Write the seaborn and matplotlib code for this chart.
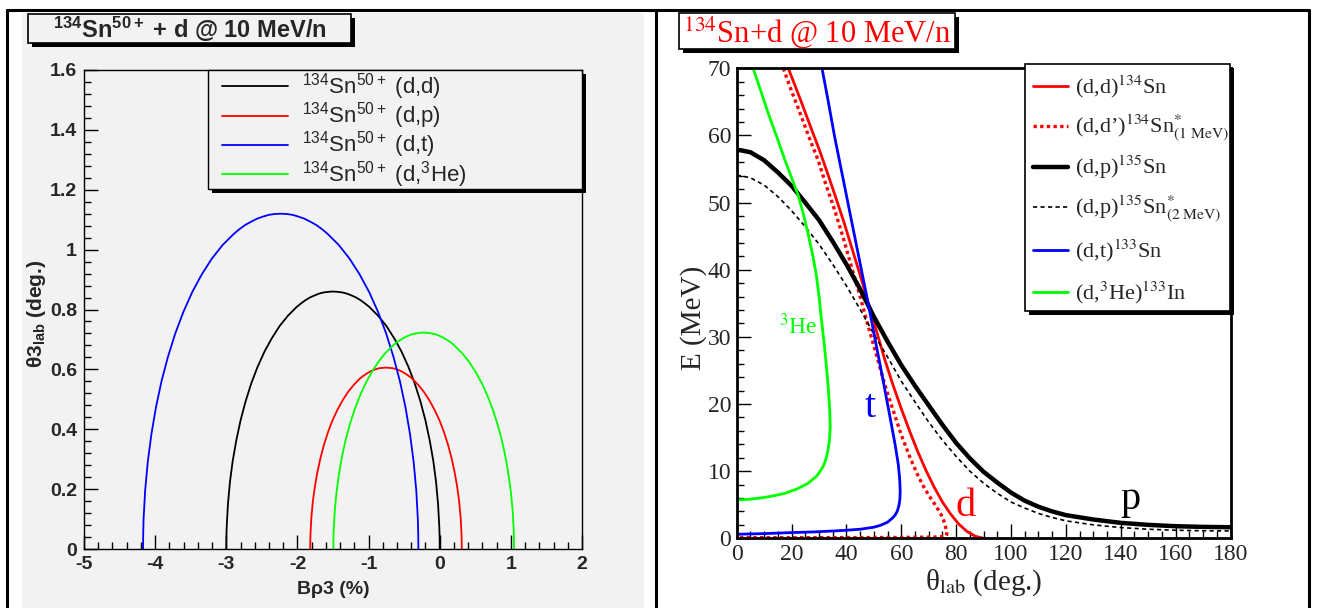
import matplotlib
matplotlib.use("Agg")
import matplotlib.pyplot as plt
import seaborn as sns
from matplotlib.patches import Rectangle
from matplotlib.lines import Line2D
from matplotlib.ticker import MultipleLocator, FuncFormatter

# ---------------- data: left panel (Brho3 % vs theta3_lab deg) ----------------
dd_brho = [-3.000, -2.999, -2.994, -2.977, -2.949, -2.910, -2.859, -2.799, -2.729, -2.649, -2.561,
           -2.464, -2.360, -2.250, -2.134, -2.013, -1.951, -1.888, -1.825, -1.760, -1.696, -1.631,
           -1.565, -1.500,
           -1.435, -1.369, -1.304, -1.240, -1.175, -1.112, -1.049, -0.987, -0.866, -0.750, -0.640,
           -0.536, -0.439, -0.351, -0.271, -0.201, -0.141, -0.090, -0.051, -0.023, -0.006, -0.001,
           0.000]
dd_theta = [0.000, 0.038, 0.075, 0.149, 0.223, 0.294, 0.363, 0.430, 0.493, 0.553, 0.608, 0.659,
            0.704, 0.745, 0.779, 0.808, 0.820, 0.831, 0.840, 0.847, 0.853, 0.857, 0.859, 0.860,
            0.859, 0.857, 0.853, 0.847, 0.840, 0.831, 0.820, 0.808, 0.779, 0.745, 0.704, 0.659,
            0.608, 0.553, 0.493, 0.430, 0.363, 0.294, 0.223, 0.149, 0.075, 0.038, 0.000]
dp_brho = [-1.820, -1.819, -1.816, -1.804, -1.784, -1.756, -1.720, -1.677, -1.627, -1.571, -1.508,
           -1.440, -1.366, -1.288, -1.205, -1.119, -1.075, -1.031, -0.986, -0.940, -0.894, -0.848,
           -0.801, -0.755,
           -0.709, -0.662, -0.616, -0.570, -0.525, -0.479, -0.435, -0.391, -0.305, -0.223, -0.144,
           -0.071, -0.002, 0.061, 0.117, 0.167, 0.210, 0.246, 0.274, 0.294, 0.306, 0.309, 0.310]
dp_theta = [0.000, 0.026, 0.053, 0.105, 0.157, 0.207, 0.256, 0.303, 0.348, 0.390, 0.429, 0.464,
            0.496, 0.525, 0.549, 0.570, 0.578, 0.585, 0.592, 0.597, 0.601, 0.604, 0.605, 0.606,
            0.605, 0.604, 0.601, 0.597, 0.592, 0.585, 0.578, 0.570, 0.549, 0.525, 0.496, 0.464,
            0.429, 0.390, 0.348, 0.303, 0.256, 0.207, 0.157, 0.105, 0.053, 0.026, 0.000]
dt_brho = [-4.170, -4.168, -4.163, -4.141, -4.104, -4.053, -3.989, -3.911, -3.820, -3.717, -3.603,
           -3.479, -3.345, -3.203, -3.053, -2.897, -2.817, -2.736, -2.654, -2.571, -2.488, -2.404,
           -2.319, -2.235,
           -2.151, -2.066, -1.982, -1.899, -1.816, -1.734, -1.653, -1.573, -1.417, -1.268, -1.125,
           -0.991, -0.867, -0.753, -0.650, -0.559, -0.481, -0.417, -0.366, -0.329, -0.307, -0.302,
           -0.300]
dt_theta = [0.000, 0.049, 0.098, 0.194, 0.290, 0.383, 0.473, 0.560, 0.642, 0.720, 0.792, 0.858,
            0.917, 0.970, 1.015, 1.052, 1.068, 1.082, 1.093, 1.103, 1.110, 1.116, 1.119, 1.120,
            1.119, 1.116, 1.110, 1.103, 1.093, 1.082, 1.068, 1.052, 1.015, 0.970, 0.917, 0.858,
            0.792, 0.720, 0.642, 0.560, 0.473, 0.383, 0.290, 0.194, 0.098, 0.049, 0.000]
dhe_brho = [-1.495, -1.494, -1.490, -1.476, -1.452, -1.418, -1.376, -1.325, -1.265, -1.198, -1.123,
            -1.041, -0.953, -0.860, -0.762, -0.659, -0.607, -0.554, -0.500, -0.446, -0.391, -0.336,
            -0.280, -0.225,
            -0.170, -0.114, -0.059, -0.004, 0.050, 0.104, 0.157, 0.209, 0.312, 0.410, 0.503,
            0.591, 0.673, 0.748, 0.815, 0.875, 0.926, 0.968, 1.002, 1.026, 1.040, 1.044, 1.045]
dhe_theta = [0.000, 0.032, 0.063, 0.126, 0.187, 0.247, 0.306, 0.362, 0.415, 0.465, 0.511, 0.554,
             0.592, 0.626, 0.655, 0.679, 0.690, 0.698, 0.706, 0.712, 0.717, 0.720, 0.722, 0.723,
             0.722, 0.720, 0.717, 0.712, 0.706, 0.698, 0.690, 0.679, 0.655, 0.626, 0.592, 0.554,
             0.511, 0.465, 0.415, 0.362, 0.306, 0.247, 0.187, 0.126, 0.063, 0.032, 0.000]
left_labels = ["$^{134}$Sn$^{50+}$ (d,d)", "$^{134}$Sn$^{50+}$ (d,p)",
               "$^{134}$Sn$^{50+}$ (d,t)", "$^{134}$Sn$^{50+}$ (d,$^{3}$He)"]

# ---------------- data: right panel (theta_lab deg vs E MeV) ----------------
el_theta = [18.8, 21.0, 24.0, 27.0, 30.0, 33.0, 36.0, 39.0, 42.0, 45.0, 48.0, 51.0, 54.0, 57.0,
            60.0, 63.0, 66.0, 69.0, 72.0, 75.0, 78.0, 81.0, 84.0, 87.0, 90.0]
el_E = [70.0, 67.7, 64.5, 61.2, 58.0, 54.5, 50.9, 47.2, 43.2, 39.2, 35.0, 30.8, 26.6, 22.8,
        19.3, 16.0, 12.9, 10.1, 7.6, 5.4, 3.6, 2.1, 1.0, 0.3, 0.0]
inel_theta = [17.0, 20.0, 23.6, 26.5, 29.7, 32.5, 35.7, 38.8, 41.8, 45.0, 48.0, 51.0, 53.9, 57.0,
              60.0, 63.0, 66.0, 68.0, 70.0, 72.5, 74.3, 75.4, 76.1, 76.5, 76.6, 76.3, 75.0, 72.0,
              60.0, 45.0, 30.0, 15.0, 0.0]
inel_E = [70.0, 66.6, 62.8, 59.6, 56.3, 52.7, 48.9, 44.8, 40.5, 36.0, 31.5, 27.2, 23.0, 19.1,
          15.4, 12.2, 9.4, 7.8, 6.4, 4.9, 3.7, 2.7, 1.8, 1.0, 0.6, 0.35, 0.25, 0.18,
          0.13, 0.11, 0.1, 0.1, 0.1]
p_theta = [0, 5, 10, 15, 20, 25, 30, 35, 40, 45, 50, 55, 60, 65, 70, 75, 80, 85, 90, 95, 100,
           105, 110, 115, 120, 130, 140, 150, 160, 170, 180]
p_E = [57.9, 57.5, 56.3, 54.5, 52.5, 50.0, 47.4, 44.2, 40.8, 37.1, 33.0, 29.3, 25.8, 22.7,
       19.8, 16.9, 14.2, 11.9, 9.9, 8.3, 6.8, 5.6, 4.7, 4.0, 3.45, 2.8, 2.3, 2.0, 1.8, 1.7, 1.65]
p2_theta = [0, 5, 10, 15, 20, 25, 30, 35, 40, 45, 50, 55, 60, 65, 70, 75, 80, 85, 90, 95, 100,
            105, 110, 115, 120, 130, 140, 150, 160, 170, 180]
p2_E = [54.1, 53.7, 52.6, 50.9, 48.8, 46.4, 43.8, 40.8, 37.6, 34.1, 30.4, 27.0, 23.4, 20.3,
        17.3, 14.6, 12.2, 10.0, 8.2, 6.7, 5.4, 4.5, 3.7, 3.1, 2.6, 2.0, 1.6, 1.35, 1.2, 1.12, 1.1]
t_theta = [31.1, 33.4, 35.7, 38.8, 41.8, 45.2, 48.5, 50.7, 52.9, 54.8, 56.6, 57.9, 58.9, 59.4,
           59.6, 59.5, 59.2, 58.6, 57.8, 57.0, 55.0, 52.5, 50.0, 45.0, 40.0, 35.7, 28.0, 20.0,
           10.0, 0.0]
t_E = [70.0, 65.0, 59.8, 53.5, 47.4, 40.5, 33.8, 29.1, 24.5, 20.4, 16.5, 13.6, 11.0, 8.9,
       7.0, 5.9, 5.0, 4.1, 3.5, 3.1, 2.4, 1.95, 1.65, 1.35, 1.2, 1.1, 0.95, 0.85, 0.7, 0.6]
he_theta = [6.0, 8.8, 11.5, 14.6, 17.6, 20.0, 22.4, 24.3, 26.0, 27.7, 29.1, 30.1, 30.9, 31.9,
            32.7, 33.4, 33.9, 34.1, 33.8, 33.3, 32.8, 32.2, 31.5, 30.3, 29.0, 27.5, 26.0, 22.0,
            17.6, 12.5, 7.9, 4.0, 0.0]
he_E = [70.0, 66.6, 63.3, 59.8, 56.3, 53.7, 51.1, 48.3, 45.4, 42.2, 39.0, 35.7, 32.5, 29.0,
        25.6, 22.3, 19.1, 16.5, 14.6, 13.2, 12.2, 11.4, 10.7, 9.9, 9.2, 8.7, 8.2, 7.35,
        6.7, 6.25, 5.96, 5.8, 5.7]
right_labels = ["(d,d)$^{134}$Sn", "(d,d\u2019)$^{134}$Sn$^{*}_{\\mathrm{(1\\ MeV)}}$",
                "(d,p)$^{135}$Sn", "(d,p)$^{135}$Sn$^{*}_{\\mathrm{(2\\ MeV)}}$",
                "(d,t)$^{133}$Sn", "(d,$^{3}$He)$^{133}$In"]

# ---------------- style ----------------
sns.set_theme(style="white")
plt.rcParams['font.family'] = ['Liberation Sans', 'DejaVu Sans']
plt.rcParams['mathtext.fontset'] = 'custom'
plt.rcParams['mathtext.rm'] = 'Liberation Sans'
plt.rcParams['mathtext.bf'] = 'Liberation Sans:bold'
plt.rcParams['mathtext.it'] = 'Liberation Sans:italic'
SERIF = ['Liberation Serif', 'DejaVu Serif']

W, H = 1317, 608
fig = plt.figure(figsize=(W / 100, H / 100), dpi=100)
fig.patch.set_facecolor('white')


def fx(px):
    return px / W


def fy(py):
    return 1 - py / H


def fig_line(x0, y0, x1, y1, **kw):
    fig.add_artist(Line2D([fx(x0), fx(x1)], [fy(y0), fy(y1)], transform=fig.transFigure, **kw))


def shadow_box(x0, y0, x1, y1, fc, sh=4, lw=1.0, z=5):
    fig.add_artist(Rectangle((fx(x0 + sh), fy(y1 + sh)), (x1 - x0) / W, (y1 - y0) / H,
                             transform=fig.transFigure, fc='black', ec='none', zorder=z))
    fig.add_artist(Rectangle((fx(x0), fy(y1)), (x1 - x0) / W, (y1 - y0) / H,
                             transform=fig.transFigure, fc=fc, ec='black', lw=lw, zorder=z + 0.1))


# panel backgrounds and frame
GRAY = '#f2f2f2'
fig.add_artist(Rectangle((fx(22), 0), (644 - 22) / W, fy(13), transform=fig.transFigure,
                         fc=GRAY, ec='none', zorder=-5))
for (a, b, c, d) in [(7, 10, 1309, 10), (7, 10, 7, 608), (656, 10, 656, 608), (1309, 10, 1309, 608)]:
    fig_line(a, b, c, d, color='black', lw=2.2, zorder=10)

# ---------------- left panel ----------------
ax1 = fig.add_axes([fx(84), fy(549), (582 - 84) / W, (549 - 70) / H])
ax1.set_facecolor(GRAY)
for xs, ys, col in [(dd_brho, dd_theta, 'black'), (dp_brho, dp_theta, 'red'),
                    (dt_brho, dt_theta, 'blue'), (dhe_brho, dhe_theta, '#00ff00')]:
    sns.lineplot(x=xs, y=ys, ax=ax1, sort=False, estimator=None, color=col, linewidth=1.3)
ax1.set_xlim(-5, 2)
ax1.set_ylim(0, 1.6)
ax1.xaxis.set_major_locator(MultipleLocator(1))
ax1.xaxis.set_minor_locator(MultipleLocator(0.2))
ax1.yaxis.set_major_locator(MultipleLocator(0.2))
ax1.yaxis.set_minor_locator(MultipleLocator(0.04))
fmt = FuncFormatter(lambda v, p: '%g' % round(v, 6))
ax1.xaxis.set_major_formatter(fmt)
ax1.yaxis.set_major_formatter(fmt)
ax1.tick_params(which='both', direction='in', left=True, bottom=True, top=False, right=False,
                color='black', width=1.0)
ax1.tick_params(which='major', length=10, labelsize=14, pad=5)
ax1.tick_params(which='minor', length=5)
for lab in ax1.get_xticklabels() + ax1.get_yticklabels():
    lab.set_fontweight('bold')
for s in ax1.spines.values():
    s.set_color('black')
    s.set_linewidth(1.0)
ax1.set_xlabel("B\u03c13 (%)", fontsize=14, fontweight='bold', labelpad=6)
ax1.set_ylabel("\u03b83$_{\\mathbf{lab}}$ (deg.)", fontsize=15, fontweight='bold')
ax1.yaxis.set_label_coords(-0.072, 0.49)

# left title
shadow_box(28, 14, 351, 43, GRAY, sh=4, lw=1.2)
fig.text(fx(189.5), fy(29), "$^{\\mathbf{134}}$Sn$^{\\mathbf{50+}}$ + d @ 10 MeV/n", ha='center',
         va='center', fontsize=17, fontweight='bold', zorder=8)

# left legend
shadow_box(208, 70, 582, 189, GRAY, sh=4, lw=1.0)
for i, (lab, col) in enumerate(zip(left_labels, ['black', 'red', 'blue', '#00ff00'])):
    yy = 86 + i * 29.5
    fig_line(222, yy, 288, yy, color=col, lw=1.3, zorder=8)
    fig.text(fx(302), fy(yy + 7), lab, ha='left', va='baseline', fontsize=16, zorder=8)

# ---------------- right panel ----------------
ax2 = fig.add_axes([fx(736.7), fy(538.3), (1230.5 - 736.7) / W, (538.3 - 68.3) / H])
ax2.set_facecolor('white')
series = [
    (el_theta, el_E, 'red', 2.0, '-'),
    (inel_theta, inel_E, 'red', 2.4, (0, (1, 1))),
    (p_theta, p_E, 'black', 3.2, '-'),
    (p2_theta, p2_E, 'black', 1.2, (0, (2.5, 2))),
    (t_theta, t_E, 'blue', 2.0, '-'),
    (he_theta, he_E, '#00ff00', 2.0, '-'),
]
for xs, ys, col, lw, ls in series:
    sns.lineplot(x=xs, y=ys, ax=ax2, sort=False, estimator=None, color=col, linewidth=lw,
                 linestyle=ls)
ax2.set_xlim(0, 180)
ax2.set_ylim(0, 70)
ax2.xaxis.set_major_locator(MultipleLocator(20))
ax2.xaxis.set_minor_locator(MultipleLocator(5))
ax2.yaxis.set_major_locator(MultipleLocator(10))
ax2.yaxis.set_minor_locator(MultipleLocator(2))
ax2.xaxis.set_major_formatter(fmt)
ax2.yaxis.set_major_formatter(fmt)
ax2.tick_params(which='both', direction='in', left=True, bottom=True, top=False, right=False,
                color='black', width=1.0)
ax2.tick_params(which='major', length=10, labelsize=17, pad=4)
ax2.tick_params(which='minor', length=5)
for lab in ax2.get_xticklabels() + ax2.get_yticklabels():
    lab.set_fontfamily(SERIF)
for s in ax2.spines.values():
    s.set_color('black')
    s.set_linewidth(2.0)
ax2.set_xlabel("\u03b8$_{\\mathrm{lab}}$ (deg.)", fontsize=21, fontfamily=SERIF,
               math_fontfamily='stix', labelpad=2)
ax2.set_ylabel("E (MeV)", fontsize=21, fontfamily=SERIF, labelpad=0)
ax2.yaxis.set_label_coords(-0.06, 0.47)

ax2.text(22.3, 31.5, "$^{3}$He", color='#00ff00', fontsize=17, fontfamily=SERIF,
         math_fontfamily='stix', ha='center', va='center')
ax2.text(48.8, 19.5, "t", color='blue', fontsize=29, fontfamily=SERIF, ha='center', va='center')
ax2.text(83.6, 4.8, "d", color='red', fontsize=29, fontfamily=SERIF, ha='center', va='center')
ax2.text(143.6, 5.8, "p", color='black', fontsize=29, fontfamily=SERIF, ha='center', va='center')

# right title
shadow_box(679, 13, 955, 49, 'white', sh=4, lw=1.2)
fig.text(fx(817), fy(32), "$^{134}$Sn+d @ 10 MeV/n", color='red', ha='center', va='center',
         fontsize=22, fontfamily=SERIF, math_fontfamily='stix', zorder=8)

# right legend
shadow_box(1025, 64, 1230, 311, 'white', sh=4, lw=1.2)
leg_styles = [('red', 2.0, '-'), ('red', 2.4, (0, (1, 1))), ('black', 3.2, '-'),
              ('black', 1.2, (0, (2.5, 2))), ('blue', 2.0, '-'), ('#00ff00', 2.0, '-')]
leg_y = [86, 126, 167, 207, 250, 292]
for lab, (col, lw, ls), yy in zip(right_labels, leg_styles, leg_y):
    fig_line(1033, yy, 1068, yy, color=col, lw=lw, ls=ls, zorder=8)
    fig.text(fx(1075), fy(yy + 7), lab, ha='left', va='baseline', fontsize=16,
             fontfamily=SERIF, math_fontfamily='stix', zorder=8)

fig.savefig("out.png", dpi=100, facecolor='white')
